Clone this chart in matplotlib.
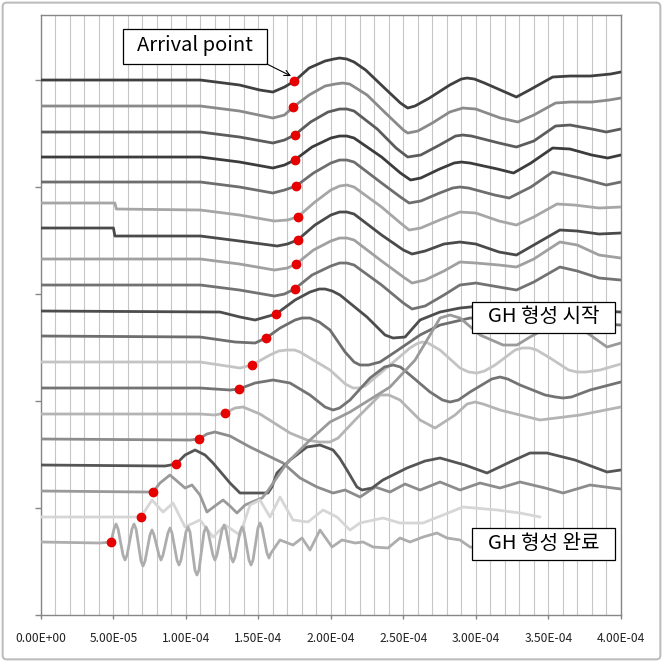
import matplotlib
matplotlib.use("Agg")
import matplotlib.pyplot as plt
from matplotlib.patches import FancyBboxPatch, Rectangle
from matplotlib.ticker import MultipleLocator, FuncFormatter
import numpy as np

plt.rcParams['font.family'] = ['Noto Sans CJK KR', 'DejaVu Sans']

# time in microseconds, amplitude in arbitrary units (traces stacked)
t01 = [0, 110, 137, 151, 160, 168, 175, 185, 196, 202, 206, 211, 216, 224, 237, 248, 253, 258, 268, 282, 290, 294, 299, 306, 317, 328, 337, 353, 365, 379, 393, 400]
a01 = [535, 535, 530, 525, 523, 528, 534, 547, 554, 556, 557, 556, 553, 545, 527, 512, 507, 509, 517, 530, 536, 537, 536, 532, 525, 518, 525, 538, 539, 539, 541, 543]

t02 = [0, 110, 137, 160, 168, 174, 185, 196, 203, 208, 213, 225, 237, 250, 253, 260, 270, 282, 291, 300, 317, 329, 340, 355, 365, 380, 392, 400]
a02 = [509, 509, 504, 497, 500, 508, 520, 529, 531, 532, 531, 520, 503, 485, 482, 484, 492, 503, 507, 506, 497, 493, 500, 512, 513, 513, 515, 517]

t03 = [0, 110, 137, 160, 168, 175, 186, 198, 206, 211, 216, 232, 245, 253, 262, 275, 286, 291, 297, 316, 328, 340, 355, 365, 380, 390, 400]
a03 = [483, 483, 478, 472, 475, 480, 493, 503, 506, 506, 504, 486, 467, 458, 460, 470, 479, 480, 479, 472, 468, 474, 489, 490, 486, 483, 486]

t04 = [0, 110, 137, 160, 168, 175, 187, 200, 206, 211, 216, 235, 248, 255, 262, 275, 285, 290, 296, 315, 326, 338, 353, 365, 380, 391, 400]
a04 = [458, 458, 453, 447, 450, 455, 468, 477, 479, 479, 477, 458, 442, 435, 437, 446, 452, 453, 452, 446, 442, 452, 467, 466, 460, 457, 460]

t05 = [0, 110, 137, 160, 168, 176, 188, 200, 206, 211, 216, 235, 248, 254, 262, 275, 284, 289, 295, 313, 323, 338, 353, 372, 390, 400]
a05 = [433, 433, 428, 422, 425, 429, 442, 452, 455, 455, 453, 432, 418, 412, 414, 422, 427, 428, 427, 420, 417, 428, 443, 437, 430, 433]

t06 = [0, 51, 52, 110, 137, 161, 170, 177, 189, 200, 206, 211, 216, 235, 248, 254, 262, 275, 289, 300, 316, 328, 340, 356, 368, 385, 400]
a06 = [412, 412, 406, 405, 400, 394, 395, 398, 413, 425, 429, 430, 428, 408, 392, 385, 387, 395, 403, 402, 394, 390, 398, 411, 410, 407, 408]

t07 = [0, 50, 51, 110, 137, 163, 170, 177, 189, 200, 206, 211, 216, 235, 250, 256, 265, 278, 289, 300, 316, 328, 340, 358, 370, 385, 400]
a07 = [387, 387, 379, 379, 374, 369, 371, 375, 390, 400, 403, 403, 401, 380, 365, 361, 364, 371, 373, 371, 363, 360, 370, 385, 384, 381, 382]

t08 = [0, 110, 137, 161, 170, 176, 188, 200, 206, 211, 216, 235, 250, 256, 265, 278, 289, 300, 316, 328, 340, 358, 370, 385, 400]
a08 = [356, 356, 351, 345, 347, 351, 365, 374, 377, 377, 375, 354, 338, 332, 335, 344, 353, 352, 350, 348, 356, 373, 370, 360, 357]

t09 = [0, 110, 137, 161, 168, 175, 187, 200, 206, 211, 216, 235, 250, 256, 265, 278, 289, 300, 316, 328, 340, 358, 370, 385, 400]
a09 = [330, 330, 325, 319, 321, 326, 340, 349, 352, 352, 350, 330, 312, 306, 309, 320, 330, 332, 328, 325, 333, 348, 344, 337, 335]

t10 = [0, 123.5, 137.3, 147.7, 162.2, 175.3, 185.6, 192, 196, 201, 206.3, 224.9, 237.4, 242.9, 251.2, 261.5, 275.3, 289.1, 302.9, 330.5, 358.1, 385.7, 400]
a10 = [304, 303, 298, 295, 301, 315, 323, 326, 326, 324, 320, 298, 280, 277, 278, 295, 303, 307, 309, 305, 303, 304, 303]

t11 = [0, 109.7, 133.9, 147.7, 155.3, 165, 175.3, 180, 185.6, 192, 199.4, 209.8, 216, 220.1, 226, 233.9, 244.3, 261.5, 275.3, 296, 316.7, 344.3, 371.9, 400]
a11 = [279, 278, 273, 272, 277, 287, 295, 297, 297, 293, 285, 263, 253, 250, 250, 253, 263, 280, 290, 297, 295, 293, 292, 290]

t12 = [0, 109.7, 137.3, 145.6, 158, 164, 169.7, 175, 178.7, 199.4, 210, 215.3, 219, 223.6, 240.8, 254.6, 259, 262.9, 267, 275.3, 289.1, 295, 300.8, 306, 313.3, 327.1, 332, 337.4, 342, 351.2, 364, 369.8, 376, 385.7, 400]
a12 = [253, 253, 247, 250, 260, 264, 265, 265, 263, 245, 231, 227, 227, 229, 250, 267, 271, 273, 272, 265, 247, 243, 242, 244, 250, 265, 267, 267, 265, 257, 245, 243, 243, 245, 251]

t13 = [0, 109.7, 130.4, 136.6, 147.7, 160.1, 171.8, 185.6, 196, 201.5, 206, 213.2, 227, 237, 242.9, 248, 254.6, 268.4, 277, 282.2, 288, 296, 311, 316.7, 322, 330.5, 347.8, 355, 360.2, 366, 378.8, 400]
a13 = [227, 227, 225, 226, 232, 235, 232, 220, 208, 205, 207, 215, 237, 248, 250, 248, 240, 223, 215, 213, 215, 223, 236, 238, 236, 230, 220, 218, 217, 218, 225, 233]

t14 = [0, 109.7, 120, 127, 133.9, 139.4, 151.1, 171.8, 183.5, 192, 199.4, 205, 216.7, 233.9, 240, 247.7, 261.5, 271.9, 285.7, 294, 299.5, 305, 316.7, 344.3, 371.9, 400]
a14 = [201, 201, 200, 202, 207, 208, 201, 182, 175, 173, 173, 177, 195, 220, 220, 215, 195, 187, 200, 211, 213, 211, 205, 195, 200, 208]

t15 = [0, 102.8, 109, 114.5, 120, 130.4, 144.2, 167, 178.7, 190.4, 201.5, 209.8, 220.1, 230.5, 240.8, 251.2, 261.5, 275.3, 289.1, 302.9, 316.7, 330.5, 347.8, 360.2, 378.8, 400]
a15 = [176, 175, 176, 181, 183, 179, 168, 152, 137, 128, 122, 125, 118, 128, 123, 131, 125, 133, 125, 132, 127, 133, 127, 122, 130, 126]

t16 = [0, 85.6, 93.2, 99.4, 106.3, 113.2, 118.7, 130.4, 137.3, 156.6, 159.3, 162.8, 171.8, 183.5, 192.5, 201.5, 206, 211.1, 218, 221.5, 228.4, 235.9, 252.5, 265, 275.3, 292.5, 307.7, 323.6, 337.4, 349.1, 368.4, 390.5, 400]
a16 = [150, 149, 151, 160, 165, 160, 152, 132, 122, 122, 128, 142, 155, 168, 170, 165, 157, 145, 128, 125, 127, 135, 147, 154, 157, 150, 142, 153, 162, 162, 155, 143, 145]

t17 = [0, 71.8, 77.3, 82.1, 89, 94.6, 99.4, 104.2, 109.7, 114.5, 120, 125.6, 130.4, 135.2, 140.8, 149, 152.5, 155.9, 169.7, 185.6, 199.4, 213.2, 240.8, 258.1, 268.4, 275.3, 282.2, 289.1, 302.9, 318.8, 328.4, 337.4, 346.4, 360.2, 374, 390.5, 400]
a17 = [124, 123, 123, 132, 140, 133, 127, 130, 120, 103, 109, 115, 109, 102, 110, 115, 117, 123, 152, 175, 193, 203, 228, 255, 280, 297, 300, 297, 280, 270, 270, 278, 285, 293, 285, 268, 272]

t18 = [0, 61.4, 69, 76.6, 84.2, 91.1, 99.4, 109.7, 118.7, 127, 137.3, 144.2, 151.1, 158, 164.9, 173.9, 184.2, 194.6, 204.2, 213.2, 220.1, 236, 247.7, 263.6, 277.4, 291.2, 314.6, 330.5, 344.3]
a18 = [98, 98, 98, 115, 103, 112, 88, 95, 78, 90, 80, 110, 115, 98, 118, 95, 93, 105, 98, 85, 92, 97, 92, 92, 100, 108, 105, 102, 98]

t19 = [0, 40.7, 48.3,
       50.4, 51.8, 53.2, 56.6, 58, 59.4, 62.8, 64.2, 65.6, 69, 70.4, 71.8,
       75.2, 76.6, 78, 81.4, 82.8, 84.2, 87.6, 89, 90.4, 93.8, 95.2, 96.6,
       100, 101.4, 102.8, 106.2, 107.6, 109, 112.5, 113.9, 115.3, 118.6, 120, 121.4,
       124.9, 126.3, 127.7, 131.1, 132.5, 133.9, 137.3, 138.7, 140.1, 143.5, 144.9, 146.3,
       149.7, 151.1, 152.5, 155.9, 157.3, 158.7,
       164.9, 173.9, 180.1, 185.6, 192.5, 200.8, 207.7, 216.7, 222.2, 229.1, 239.4, 247.7,
       254.6, 263.6, 273.2, 280.1, 289.1, 296, 309.8, 330.5]
a19 = [73, 72, 73,
       86, 91, 86, 60, 55, 60, 86, 91, 86, 54, 49, 54,
       80, 85, 80, 60, 55, 60, 82, 87, 82, 55, 50, 55,
       83, 88, 83, 45, 40, 45, 83, 88, 83, 60, 55, 60,
       85, 90, 85, 58, 53, 58, 83, 88, 83, 55, 50, 55,
       87, 92, 87, 62, 57, 62,
       75, 70, 77, 65, 85, 68, 75, 72, 73, 68, 67, 77,
       73, 78, 82, 77, 75, 68, 65, 67]

trace_t = [t01, t02, t03, t04, t05, t06, t07, t08, t09, t10, t11, t12, t13, t14, t15, t16, t17, t18, t19]
trace_a = [a01, a02, a03, a04, a05, a06, a07, a08, a09, a10, a11, a12, a13, a14, a15, a16, a17, a18, a19]
trace_colors = ['#404040', '#8a8a8a', '#5c5c5c', '#3c3c3c', '#6e6e6e', '#a6a6a6', '#4a4a4a', '#a0a0a0', '#727272', '#4d4d4d',
                '#6e6e6e', '#c4c4c4', '#737373', '#b4b4b4', '#8c8c8c', '#555555', '#9a9a9a', '#d6d6d6', '#adadad']

# arrival points (microseconds, amplitude)
arrival_t = [174.6, 173.9, 175.3, 175.3, 176, 177.3, 177.3, 176, 175.3, 162.2, 155.3, 145.6, 136.6, 127, 109, 93.2, 77.3, 69, 48.3]
arrival_a = [534, 508, 480, 455, 429, 398, 375, 351, 326, 301, 277, 250, 226, 202, 176, 151, 123, 98, 73]

fig = plt.figure(figsize=(6.63, 6.62), dpi=100)
ax = fig.add_axes([0.0618, 0.071, 0.8745, 0.9063])

for tt, aa, c in zip(trace_t, trace_a, trace_colors):
    ax.plot(np.array(tt) * 1e-6, aa, color=c, lw=2.0, solid_joinstyle='round', solid_capstyle='round', zorder=3)

ax.plot(np.array(arrival_t) * 1e-6, arrival_a, 'o', color='#e60000', ms=6, zorder=5)

ax.set_xlim(0, 4e-4)
ax.set_ylim(0, 600)
ax.xaxis.set_major_locator(MultipleLocator(5e-5))
ax.xaxis.set_minor_locator(MultipleLocator(1e-5))
ax.yaxis.set_major_locator(MultipleLocator(107))
ax.xaxis.set_major_formatter(FuncFormatter(lambda v, p: '{:.2E}'.format(v)))
ax.set_yticklabels([])
ax.grid(True, which='both', axis='x', color='#c6c6c6', lw=0.8, zorder=0)
ax.tick_params(axis='x', which='major', length=3, width=1, color='#868686', pad=9, labelsize=8.7, labelcolor='#222222')
ax.tick_params(axis='x', which='minor', length=0)
ax.tick_params(axis='y', length=4, width=1, color='#868686')
for s in ax.spines.values():
    s.set_color('#868686')
    s.set_linewidth(1.0)

# annotation boxes (x in microseconds)
def label_box(x0, x1, y0, y1, text, size):
    ax.add_patch(Rectangle((x0 * 1e-6, y0), (x1 - x0) * 1e-6, y1 - y0, fc='white', ec='black', lw=0.9,
                           zorder=6, clip_on=False))
    ax.text((x0 + x1) / 2 * 1e-6, (y0 + y1) / 2 + 1, text, fontsize=size, ha='center', va='center', zorder=7)

label_box(56.6, 155.9, 551, 586, 'Arrival point', 14.5)
label_box(297.4, 396.1, 282, 313, 'GH 형성 시작', 14.5)
label_box(297.4, 396.1, 55, 87, 'GH 형성 완료', 14.5)
ax.annotate('', xy=(172.5e-6, 539), xytext=(155.9e-6, 551), zorder=7,
            arrowprops=dict(arrowstyle='->', color='black', lw=0.8, shrinkA=0, shrinkB=0))

fig.patches.append(FancyBboxPatch((0.004, 0.004), 0.992, 0.992, boxstyle='round,pad=0,rounding_size=0.006',
                                  transform=fig.transFigure, fc='none', ec='#bdbdbd', lw=1.5))

fig.savefig('out.png', dpi=100)
